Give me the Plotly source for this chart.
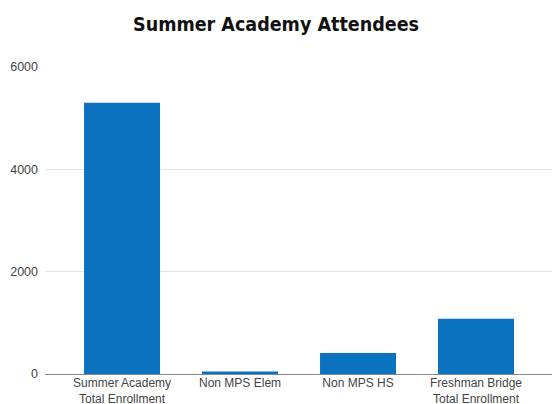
import plotly.graph_objects as go

categories = ["Summer Academy<br>Total Enrollment", "Non MPS Elem", "Non MPS HS", "Freshman Bridge<br>Total Enrollment"]
values = [5300, 50, 410, 1080]
y_ticks = [0, 2000, 4000, 6000]

fig = go.Figure(go.Bar(
    x=list(range(len(categories))), y=values,
    marker=dict(color="#0B72C0", line=dict(width=0)),
    width=0.644,
))

fig.update_layout(
    width=552, height=404,
    margin=dict(l=45, r=0, t=67, b=30, pad=0),
    paper_bgcolor="white", plot_bgcolor="white",
    title=dict(text="<b>Summer Academy Attendees</b>", x=0.5, xanchor="center", y=0.94, yanchor="middle",
               font=dict(family="DejaVu Sans Condensed, Liberation Sans Narrow, Arial", size=19.5, color="#111")),
    showlegend=False,
    xaxis=dict(range=[-0.653, 3.644], tickmode="array", tickvals=list(range(len(categories))),
               ticktext=categories, showgrid=False, zeroline=False, showline=False, automargin=False,
               tickfont=dict(family="Liberation Sans, Arial", size=12, color="#444"), ticks="",
               ticklabelstandoff=0),
    yaxis=dict(range=[0, 6000], tickvals=y_ticks, showgrid=True, gridcolor="#e4e4e4", gridwidth=1,
               zeroline=True, zerolinecolor="#888", zerolinewidth=1, showline=False, automargin=False,
               tickfont=dict(family="Liberation Sans, Arial", size=12.5, color="#444"), ticks="",
               ticklabelstandoff=6),
)

fig.write_html("out.html", config={"displayModeBar": False},
               post_script="document.body.style.margin='0';document.body.style.overflow='hidden';")
